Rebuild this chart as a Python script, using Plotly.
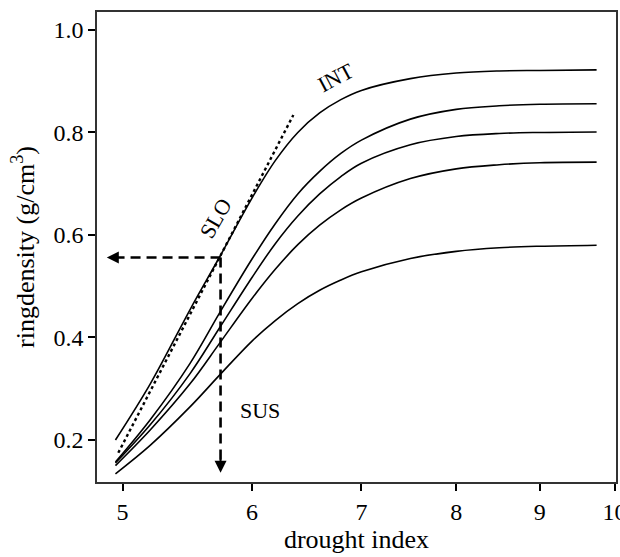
import numpy as np
import plotly.graph_objects as go

# Drought index sampling positions for the response curves
drought = [4.95, 5.2, 5.5, 5.73, 6.0, 6.2, 6.4, 6.6, 6.8, 7.0, 7.5, 8.0, 8.5, 9.0, 9.75]

# Ring density response curves (g/cm3), highest plateau first
curve_int = [0.20, 0.31, 0.455, 0.556, 0.672, 0.745, 0.800, 0.838, 0.864, 0.882, 0.905, 0.916, 0.920, 0.921, 0.922]
curve_b = [0.157, 0.24, 0.35, 0.447, 0.553, 0.622, 0.680, 0.724, 0.759, 0.785, 0.826, 0.845, 0.852, 0.855, 0.856]
curve_c = [0.155, 0.23, 0.33, 0.418, 0.517, 0.583, 0.637, 0.680, 0.714, 0.740, 0.776, 0.792, 0.798, 0.800, 0.801]
curve_d = [0.150, 0.22, 0.31, 0.388, 0.476, 0.533, 0.581, 0.619, 0.649, 0.672, 0.710, 0.729, 0.737, 0.741, 0.742]
curve_e = [0.134, 0.19, 0.265, 0.326, 0.393, 0.433, 0.466, 0.492, 0.512, 0.528, 0.554, 0.568, 0.575, 0.578, 0.580]

# Dotted SLO tangent line
slo_x = [4.97, 6.36]
slo_y = [0.175, 0.834]

ref_x = 5.74
ref_y = 0.556
guide_left_x = 4.89
guide_bottom_y = 0.136

x_ticks = [5, 6, 7, 8, 9, 10]
y_ticks = [0.2, 0.4, 0.6, 0.8, 1.0]

FONT = "Liberation Serif"

fig = go.Figure()

for ys in [curve_int, curve_b, curve_c, curve_d, curve_e]:
    fig.add_trace(go.Scatter(x=drought, y=ys, mode="lines",
                             line=dict(color="black", width=1.6, shape="spline", smoothing=1.0),
                             showlegend=False, hoverinfo="skip"))

fig.add_trace(go.Scatter(x=slo_x, y=slo_y, mode="lines",
                         line=dict(color="black", width=2.4, dash="dot"),
                         showlegend=False, hoverinfo="skip"))

# Dashed guides from the reference point to the axes
fig.add_trace(go.Scatter(x=[ref_x, guide_left_x + 0.04], y=[ref_y, ref_y], mode="lines",
                         line=dict(color="black", width=2.6, dash="10px,6px"),
                         showlegend=False, hoverinfo="skip"))
fig.add_trace(go.Scatter(x=[ref_x, ref_x], y=[ref_y, guide_bottom_y + 0.015], mode="lines",
                         line=dict(color="black", width=2.6, dash="10px,6px"),
                         showlegend=False, hoverinfo="skip"))

# Arrowheads at the ends of the guides
fig.add_annotation(x=np.log10(guide_left_x), y=ref_y, ax=np.log10(guide_left_x + 0.06), ay=ref_y,
                   xref="x", yref="y", axref="x", ayref="y", text="", showarrow=True,
                   arrowhead=2, arrowsize=1.2, arrowwidth=2, arrowcolor="black")
fig.add_annotation(x=np.log10(ref_x), y=guide_bottom_y, ax=np.log10(ref_x), ay=guide_bottom_y + 0.03,
                   xref="x", yref="y", axref="x", ayref="y", text="", showarrow=True,
                   arrowhead=2, arrowsize=1.2, arrowwidth=2, arrowcolor="black")

# Curve labels
fig.add_annotation(x=np.log10(6.75), y=0.908, text="INT", showarrow=False, textangle=-28,
                   font=dict(family=FONT, size=22, color="black"))
fig.add_annotation(x=np.log10(5.70), y=0.632, text="SLO", showarrow=False, textangle=-60,
                   font=dict(family=FONT, size=22, color="black"))
fig.add_annotation(x=np.log10(6.07), y=0.258, text="SUS", showarrow=False,
                   font=dict(family=FONT, size=22, color="black"))

fig.update_xaxes(type="log", range=[np.log10(4.823), np.log10(10.02)],
                 tickvals=x_ticks, ticktext=[str(t) for t in x_ticks],
                 ticklabeloverflow="allow", automargin=False,
                 ticks="outside", ticklen=7, tickwidth=1.5, tickcolor="black",
                 showline=True, linecolor="#333", linewidth=1.5, mirror=True,
                 showgrid=False, zeroline=False,
                 tickfont=dict(family=FONT, size=24, color="black"),
                 title=dict(text="drought index", font=dict(family=FONT, size=26, color="black"),
                            standoff=6))
fig.update_yaxes(range=[0.118, 1.035], tickvals=y_ticks,
                 ticktext=["%.1f" % t for t in y_ticks],
                 ticks="outside", ticklen=7, tickwidth=1.5, tickcolor="black",
                 showline=True, linecolor="#333", linewidth=1.5, mirror=True,
                 showgrid=False, zeroline=False,
                 tickfont=dict(family=FONT, size=24, color="black"),
                 title=dict(text="ringdensity (g/cm<sup>3</sup>)",
                            font=dict(family=FONT, size=26, color="black"), standoff=11))

fig.update_layout(width=620, height=557, margin=dict(l=97, r=2, t=12, b=75),
                  plot_bgcolor="white", paper_bgcolor="white")

fig.write_html("out.html")
